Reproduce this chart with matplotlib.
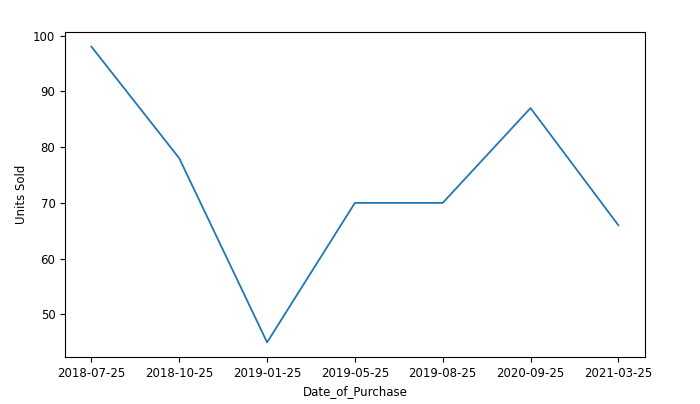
import matplotlib
matplotlib.use("Agg")
import matplotlib.pyplot as plt
import pandas as pd

dates = ["2018-07-25", "2018-10-25", "2019-01-25", "2019-05-25",
         "2019-08-25", "2020-09-25", "2021-03-25"]
units = [98, 78, 45, 70, 70, 87, 66]

df = pd.DataFrame({"Date_of_Purchase": dates, "Units Sold": units})

plt.rcParams["font.size"] = 8.5

fig, ax = plt.subplots(figsize=(7, 4.04), dpi=100)
fig.subplots_adjust(left=0.093, right=0.921, top=0.921, bottom=0.116)
ax.plot(df["Date_of_Purchase"], df["Units Sold"], color="#1f77b4", linewidth=1.3)
ax.set_xlabel("Date_of_Purchase")
ax.set_ylabel("Units Sold")

fig.savefig("out.png", dpi=100)
